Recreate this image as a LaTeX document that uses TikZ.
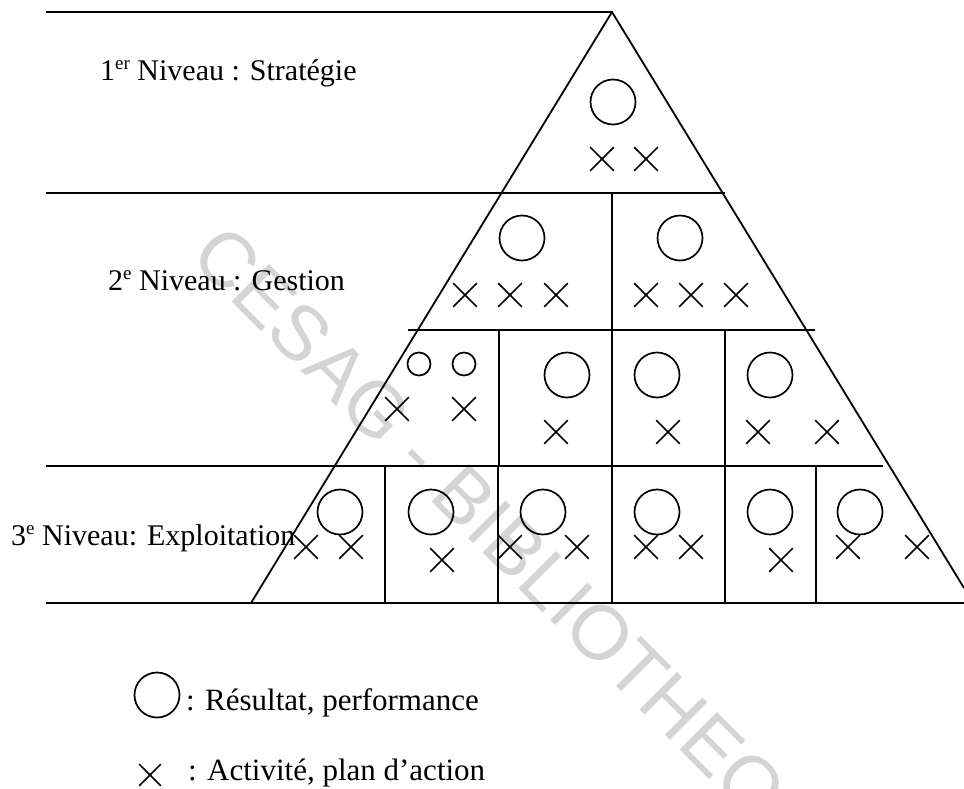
\documentclass[tikz,border=0pt]{standalone}
\usepackage{fontspec}
\setmainfont{Liberation Serif}
\newfontfamily\markfont{Liberation Sans}
\usetikzlibrary{shapes.misc}
% raised ordinal suffix (1er, 2e, 3e) at a fixed size
\newcommand\lvlsup[1]{\raisebox{10.5pt}{\fontsize{19}{19}\selectfont #1}}

\begin{document}
\begin{tikzpicture}[x=1pt,y=-1pt,
  rule/.style={line width=1.8pt},
  res/.style={circle,draw,line width=1.7pt,minimum size=45pt,inner sep=0pt},
  ressmall/.style={res,minimum size=23pt},
  act/.style={cross out,draw,line width=1.7pt,minimum size=22pt,inner sep=0pt},
  lbl/.style={anchor=base west,inner sep=0pt,font=\fontsize{30}{36}\selectfont},
  leg/.style={anchor=base west,inner sep=0pt,font=\fontsize{31}{37}\selectfont}]

\useasboundingbox (0,0) rectangle (964,788);
\fill[white] (0,0) rectangle (964,788);

% faint diagonal stamp behind the drawing
\begin{scope}
  \clip (0,0) rectangle (964,788);
  \node[rotate=-45,anchor=base west,inner sep=0pt,text=black!17,
        font=\markfont\fontsize{77}{77}\selectfont] (stamp) at (188,258)
        {CESAG - BIBLIOTHEQUE};
\end{scope}

% pyramid corners
\coordinate (apex) at (612,12);
\coordinate (bl) at (251,603);
\coordinate (br) at (964,588);

% level separators
\draw[rule] (46,12) -- (apex);
\draw[rule] (46,193) -- (725,193);
\draw[rule] (408,330) -- (815,330);
\draw[rule] (46,466) -- (883,466);
\draw[rule] (46,603) -- (964,603);

% sides of the pyramid
\draw[rule] (bl) -- (apex) -- (br);

% cell dividers
\draw[rule] (612,193) -- (612,330);
\foreach \x in {499,612,725} \draw[rule] (\x,330) -- (\x,466);
\foreach \x in {385,498,612,725,816} \draw[rule] (\x,466) -- (\x,603);

% results (circles)
\foreach \n/\p in {r11/{613,102},
                   r21/{522,238},r22/{680,238},
                   r32/{567,375},r33/{657,375},r34/{770,375},
                   r41/{340,512},r42/{431,512},r43/{543,512},
                   r44/{657,512},r45/{770,512},r46/{860,512}}
  \node[res] (\n) at (\p) {};
\node[ressmall] (r31a) at (419,364) {};
\node[ressmall] (r31b) at (464,364) {};

% activities (crosses)
\foreach \n/\p in {a11/{602,159},a12/{646,159},
                   a21/{465,295},a22/{510,295},a23/{556,295},
                   a24/{646,295},a25/{691,295},a26/{736,295},
                   a31/{397,409},a32/{464,409},a33/{556,432},
                   a34/{668,432},a35/{758,432},a36/{827,432},
                   a41/{306,547},a42/{351,547},a43/{442,560},
                   a44/{510,547},a45/{577,547},a46/{646,547},
                   a47/{691,547},a48/{781,560},a49/{848,547},
                   a410/{917,547}}
  \node[act] (\n) at (\p) {};

% level names
\node[lbl] (lvl1) at (100,80) {1\lvlsup{er} Niveau : Stratégie};
\node[lbl] (lvl2) at (108,290) {2\lvlsup{e} Niveau : Gestion};
\node[lbl] (lvl3) at (11,545) {3\lvlsup{e} Niveau: Exploitation};

% legend
\node[res] (legres) at (157,695) {};
\node[leg] (legrestxt) at (186,710) {: Résultat, performance};
\node[act,minimum size=20pt] (legact) at (150,775) {};
\node[leg] (legacttxt) at (188,780) {: Activité, plan d’action};

\end{tikzpicture}
\end{document}
